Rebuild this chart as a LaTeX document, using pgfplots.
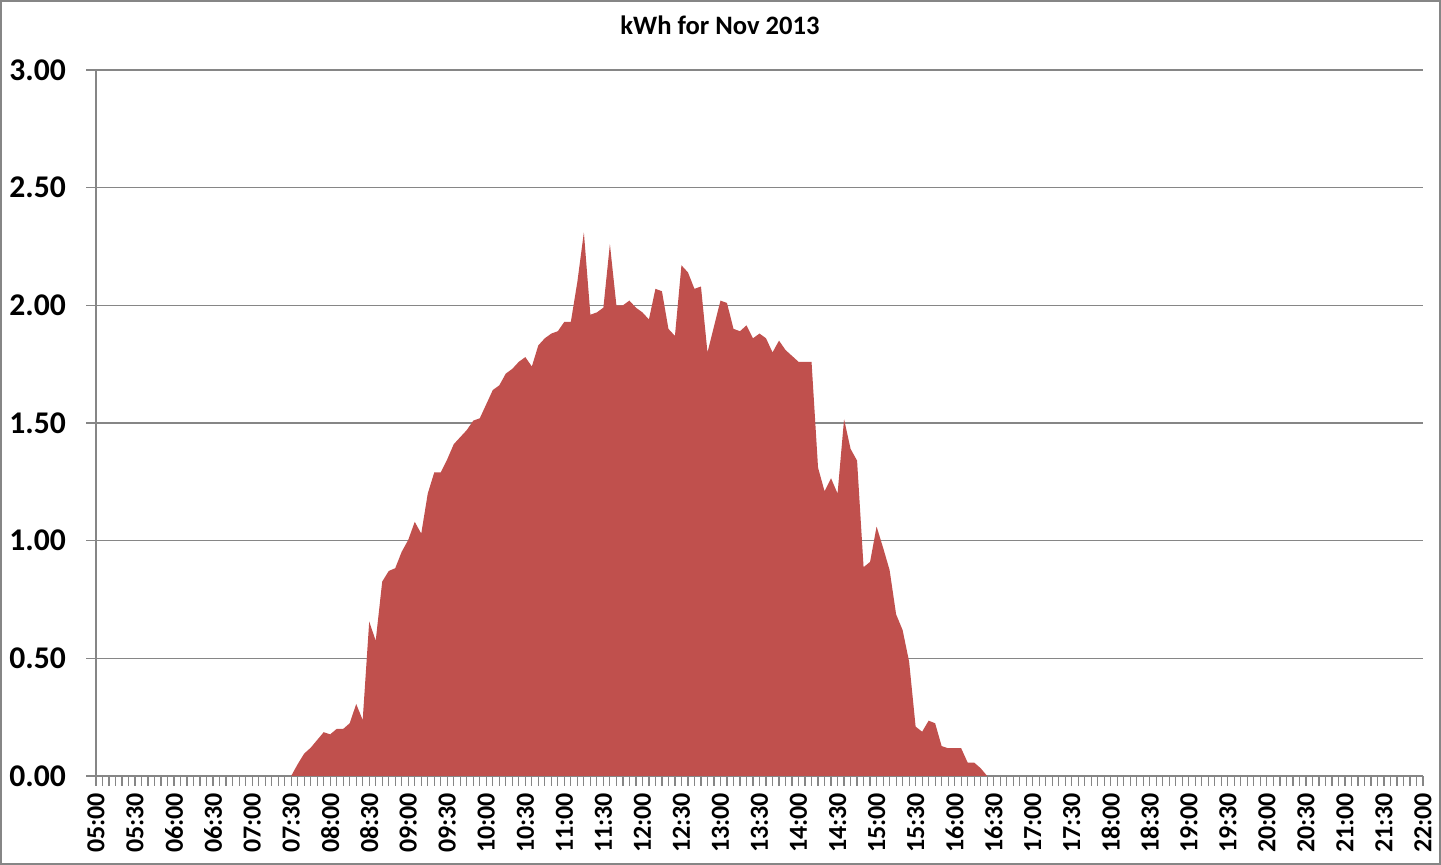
\documentclass[border=0pt]{standalone}
\usepackage{fontspec}
\setmainfont{Carlito}
\usepackage{pgfplots}
\pgfplotsset{compat=1.18}
\definecolor{areared}{HTML}{C0504D}
\definecolor{gridgray}{HTML}{868686}
\begin{document}
\begin{tikzpicture}
\useasboundingbox (0,0) rectangle (720.5pt,432.5pt);
\draw[gridgray, line width=0.75pt] (0.5pt,0.5pt) rectangle (720pt,432pt);
\node[font=\fontsize{13.3}{16}\selectfont\bfseries] at (360pt,420pt) {kWh for Nov 2013};
\begin{axis}[
  at={(48pt,44.5pt)}, anchor=south west,
  scale only axis, width=663.5pt, height=353pt,
  xmin=300, xmax=1320, ymin=0, ymax=3,
  axis lines*=left,
  axis line style={gridgray, line width=0.6pt, -},
  tick align=outside,
  major tick length=5pt, minor tick length=5pt,
  tick style={gridgray, line width=0.6pt},
  xtick={300,330,...,1320},
  minor x tick num=5,
  xticklabels={05:00,05:30,06:00,06:30,07:00,07:30,08:00,08:30,09:00,09:30,10:00,10:30,11:00,11:30,12:00,12:30,13:00,13:30,14:00,14:30,15:00,15:30,16:00,16:30,17:00,17:30,18:00,18:30,19:00,19:30,20:00,20:30,21:00,21:30,22:00},
  xticklabel style={rotate=90, anchor=east, font=\fontsize{13}{15}\selectfont\bfseries},
  ytick={0,0.5,...,3},
  ymajorgrids,
  grid style={gridgray, line width=0.6pt},
  /pgf/number format/assume math mode=true,
  yticklabel style={font=\fontsize{15.8}{18}\selectfont\bfseries, xshift=-6.5pt,
    /pgf/number format/.cd, fixed, fixed zerofill, precision=2},
  clip=false,
]
\addplot[fill=areared, draw=none] table[row sep=\\] {
x y\\
450 0\\
455 0.05\\
460 0.095\\
465 0.12\\
470 0.153\\
475 0.186\\
480 0.177\\
485 0.20\\
490 0.20\\
495 0.224\\
500 0.306\\
505 0.238\\
510 0.656\\
515 0.575\\
520 0.826\\
525 0.871\\
530 0.883\\
535 0.953\\
540 1.003\\
545 1.08\\
550 1.03\\
555 1.20\\
560 1.29\\
565 1.29\\
570 1.346\\
575 1.41\\
580 1.44\\
585 1.47\\
590 1.51\\
595 1.52\\
600 1.58\\
605 1.64\\
610 1.66\\
615 1.71\\
620 1.73\\
625 1.76\\
630 1.78\\
635 1.74\\
640 1.83\\
645 1.86\\
650 1.88\\
655 1.89\\
660 1.93\\
665 1.93\\
670 2.10\\
675 2.31\\
680 1.96\\
685 1.97\\
690 1.99\\
695 2.26\\
700 2.00\\
705 2.00\\
710 2.02\\
715 1.99\\
720 1.97\\
725 1.94\\
730 2.07\\
735 2.06\\
740 1.90\\
745 1.87\\
750 2.17\\
755 2.14\\
760 2.07\\
765 2.08\\
770 1.80\\
775 1.91\\
780 2.02\\
785 2.01\\
790 1.90\\
795 1.89\\
800 1.915\\
805 1.86\\
810 1.88\\
815 1.86\\
820 1.80\\
825 1.85\\
830 1.81\\
835 1.785\\
840 1.76\\
845 1.76\\
850 1.76\\
855 1.31\\
860 1.21\\
865 1.265\\
870 1.20\\
875 1.516\\
880 1.39\\
885 1.34\\
890 0.887\\
895 0.91\\
900 1.06\\
905 0.97\\
910 0.875\\
915 0.687\\
920 0.62\\
925 0.486\\
930 0.21\\
935 0.188\\
940 0.235\\
945 0.224\\
950 0.127\\
955 0.118\\
960 0.118\\
965 0.118\\
970 0.057\\
975 0.057\\
980 0.033\\
985 0\\
} \closedcycle;
\end{axis}
\end{tikzpicture}
\end{document}
